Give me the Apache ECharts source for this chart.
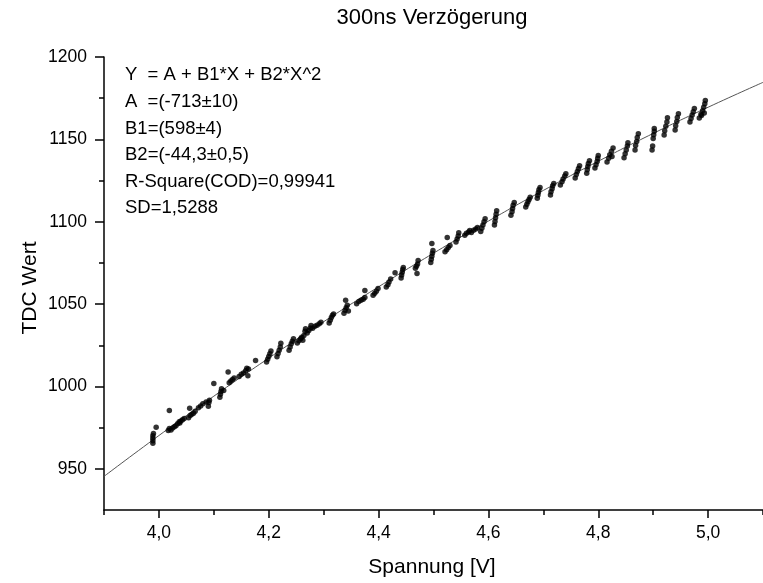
<!DOCTYPE html>
<html>
<head>
<meta charset="utf-8">
<title>300ns Verzögerung</title>
<script src="https://cdn.jsdelivr.net/npm/echarts@6/dist/echarts.min.js"></script>
<style>
  html, body { margin: 0; padding: 0; background: #fff; }
  #chart { width: 763px; height: 583px; }
</style>
</head>
<body>
<div id="chart"></div>
<script>
// Messpunkte [Spannung V, TDC Wert]
const measured = [
  [3.989, 965.5], [3.989, 967], [3.989, 968.5], [3.989, 970], [3.990, 971.5], [3.995, 975.3],
  [4.017, 973.2], [4.019, 974.5], [4.022, 973.6], [4.025, 974.8], [4.028, 975.6], [4.031, 976.1], [4.019, 985.4],
  [4.034, 977.4], [4.037, 978.5], [4.040, 979.0], [4.043, 979.8], [4.046, 980.6], [4.038, 977.8],
  [4.054, 981], [4.057, 982.3], [4.060, 983.1], [4.063, 983.8], [4.066, 985], [4.056, 986.8],
  [4.072, 987], [4.076, 988.2], [4.080, 989.5], [4.086, 990.6], [4.090, 988.0], [4.091, 990.2], [4.092, 991.6],
  [4.100, 1001.8],
  [4.111, 993.5], [4.112, 995.2], [4.113, 997], [4.114, 998.6], [4.118, 997.6],
  [4.126, 1008.7],
  [4.128, 1002.2], [4.131, 1003.3], [4.134, 1004.2], [4.137, 1005.2],
  [4.146, 1006], [4.150, 1007.4], [4.154, 1008.2], [4.158, 1009.5], [4.160, 1011], [4.163, 1010.6], [4.162, 1006.5],
  [4.176, 1015.8],
  [4.196, 1014.8], [4.198, 1016.5], [4.200, 1018.2], [4.202, 1019.8], [4.204, 1021.5],
  [4.215, 1018], [4.217, 1020], [4.219, 1022], [4.221, 1024], [4.222, 1026.3],
  [4.237, 1022], [4.239, 1024], [4.241, 1026], [4.243, 1027.5], [4.245, 1029],
  [4.252, 1026.4], [4.255, 1027.8], [4.258, 1029], [4.260, 1029.8],
  [4.262, 1028], [4.264, 1031], [4.266, 1033.5], [4.267, 1035],
  [4.270, 1032.5], [4.273, 1034], [4.276, 1035.5], [4.277, 1037],
  [4.280, 1035.3], [4.284, 1036.5], [4.288, 1037.2], [4.292, 1038], [4.295, 1039],
  [4.310, 1038.5], [4.312, 1040.2], [4.314, 1041.8], [4.316, 1043.2], [4.318, 1044],
  [4.337, 1044.5], [4.339, 1046.2], [4.341, 1047.8], [4.343, 1049.3], [4.345, 1045.8], [4.340, 1052.3],
  [4.360, 1050.2], [4.364, 1051.5], [4.368, 1052.3], [4.372, 1053], [4.375, 1054], [4.375, 1058.3],
  [4.390, 1055.3], [4.393, 1056.6], [4.396, 1057.8], [4.399, 1059.5],
  [4.414, 1060.3], [4.417, 1061.8], [4.419, 1063.4], [4.422, 1065.2], [4.430, 1069],
  [4.441, 1065.8], [4.442, 1067.6], [4.443, 1069.4], [4.444, 1071], [4.445, 1072.2],
  [4.467, 1071.8], [4.469, 1073], [4.471, 1074.4], [4.472, 1076.5], [4.470, 1068.6],
  [4.495, 1075.3], [4.496, 1077.2], [4.497, 1079], [4.498, 1080.8], [4.499, 1082.6], [4.497, 1086.8],
  [4.521, 1081.8], [4.524, 1083], [4.527, 1084.3], [4.530, 1085.6], [4.525, 1090.5],
  [4.541, 1087.7], [4.543, 1089.5], [4.545, 1091.4], [4.546, 1093.3],
  [4.557, 1091.8], [4.560, 1093], [4.564, 1093.8], [4.566, 1094.6],
  [4.569, 1093.4], [4.573, 1094.8], [4.577, 1095.6], [4.580, 1096.5],
  [4.586, 1094], [4.588, 1096], [4.590, 1098], [4.592, 1100], [4.594, 1101.8],
  [4.611, 1098], [4.612, 1100.2], [4.613, 1102.4], [4.614, 1104.6], [4.615, 1106.6],
  [4.641, 1104], [4.643, 1106], [4.644, 1108], [4.645, 1110], [4.647, 1111.6],
  [4.668, 1109], [4.670, 1110.6], [4.672, 1112.2], [4.674, 1113.5], [4.676, 1114.8],
  [4.689, 1114.2], [4.690, 1116], [4.691, 1117.8], [4.692, 1119.4], [4.694, 1120.8],
  [4.713, 1116.3], [4.714, 1118.2], [4.716, 1120], [4.717, 1121.8], [4.719, 1123.2],
  [4.731, 1122.3], [4.734, 1124.2], [4.736, 1126], [4.739, 1127.8], [4.741, 1129.2],
  [4.758, 1126.6], [4.760, 1128.6], [4.762, 1130.5], [4.764, 1132.3], [4.766, 1134],
  [4.779, 1129.5], [4.780, 1131.5], [4.781, 1133.5], [4.782, 1135.4], [4.784, 1137],
  [4.794, 1132.6], [4.796, 1134.6], [4.798, 1136.6], [4.799, 1138.5], [4.800, 1140.2],
  [4.816, 1136.3], [4.819, 1138.5], [4.821, 1140.7], [4.824, 1142.8], [4.827, 1144.8], [4.825, 1139.6],
  [4.847, 1138.8], [4.849, 1141.2], [4.851, 1143.6], [4.853, 1146], [4.854, 1148],
  [4.867, 1143.6], [4.868, 1146.2], [4.870, 1148.7], [4.871, 1151.2], [4.873, 1153.4],
  [4.898, 1143.6], [4.899, 1146], [4.900, 1150.5], [4.901, 1152.8], [4.902, 1155], [4.902, 1156.6],
  [4.920, 1152.6], [4.921, 1155.3], [4.923, 1158], [4.925, 1160.6], [4.926, 1163.1],
  [4.940, 1155.7], [4.941, 1158.3], [4.943, 1160.8], [4.944, 1163.3], [4.946, 1165.6],
  [4.967, 1160.5], [4.969, 1162.7], [4.971, 1164.8], [4.973, 1166.8], [4.975, 1168.7],
  [4.984, 1163], [4.987, 1165.2], [4.990, 1167.4], [4.992, 1169.5], [4.994, 1171.6], [4.995, 1173.6], [4.988, 1164.5], [4.993, 1166]
];

const fitX = [3.9, 4.0, 4.1, 4.2, 4.3, 4.4, 4.5, 4.6, 4.7, 4.8, 4.9, 5.0, 5.1];
const fitY = [945.4, 970.2, 994.1, 1017.2, 1039.3, 1060.5, 1080.9, 1100.4, 1119.0, 1136.7, 1153.6, 1169.5, 1184.6];

// Achsen
const xMajor = [4.0, 4.2, 4.4, 4.6, 4.8, 5.0];
const xMinor = [3.9, 4.1, 4.3, 4.5, 4.7, 4.9, 5.1];
const yMajor = [950, 1000, 1050, 1100, 1150, 1200];
const yMinor = [975, 1025, 1075, 1125, 1175];

const fitText = [
  'Y  = A + B1*X + B2*X^2',
  'A  =(-713±10)',
  'B1=(598±4)',
  'B2=(-44,3±0,5)',
  'R-Square(COD)=0,99941',
  'SD=1,5288'
];

const FONT = 'Liberation Sans, Arial, sans-serif';
const axisLine = { show: true, lineStyle: { color: '#000', width: 1.5 } };
const tickStyle = { color: '#000', width: 1.5 };

const chart = echarts.init(document.getElementById('chart'), null, { renderer: 'canvas' });

chart.setOption({
  animation: false,
  backgroundColor: '#fff',
  grid: { left: 104, right: -5, top: 57, bottom: 73, containLabel: false },
  xAxis: [
    {
      type: 'value', min: 3.9, max: 5.1, position: 'bottom',
      axisLine: axisLine,
      axisTick: { show: true, customValues: xMajor, length: 8, lineStyle: tickStyle },
      axisLabel: {
        customValues: xMajor, margin: 14, fontSize: 17.5, color: '#000', fontFamily: FONT,
        formatter: v => v.toFixed(1).replace('.', ',')
      },
      splitLine: { show: false }
    },
    {
      type: 'value', min: 3.9, max: 5.1, position: 'bottom',
      axisLine: { show: false },
      axisTick: { show: true, customValues: xMinor, length: 5, lineStyle: tickStyle },
      axisLabel: { show: false },
      splitLine: { show: false }
    }
  ],
  yAxis: [
    {
      type: 'value', min: 925, max: 1200, position: 'left',
      axisLine: axisLine,
      axisTick: { show: true, customValues: yMajor, length: 9, lineStyle: tickStyle },
      axisLabel: {
        customValues: yMajor, margin: 17, fontSize: 17.5, color: '#000', fontFamily: FONT,
        formatter: v => String(v)
      },
      splitLine: { show: false }
    },
    {
      type: 'value', min: 925, max: 1200, position: 'left',
      axisLine: { show: false },
      axisTick: { show: true, customValues: yMinor, length: 5, lineStyle: tickStyle },
      axisLabel: { show: false },
      splitLine: { show: false }
    }
  ],
  series: [
    {
      // Fit
      type: 'line',
      xAxisIndex: 0, yAxisIndex: 0,
      data: fitX.map((x, i) => [x, fitY[i]]),
      smooth: true,
      symbol: 'none',
      lineStyle: { color: '#555', width: 1 },
      z: 2
    },
    {
      // Messwerte
      type: 'scatter',
      xAxisIndex: 0, yAxisIndex: 0,
      data: measured,
      symbol: 'circle',
      symbolSize: 5.5,
      itemStyle: { color: '#000' },
      z: 3
    }
  ],
  graphic: [
    {
      type: 'text', x: 432, y: 18,
      style: { text: '300ns Verzögerung', font: '22px ' + FONT, fill: '#000', align: 'center', verticalAlign: 'middle' }
    },
    {
      type: 'text', x: 432, y: 567,
      style: { text: 'Spannung [V]', font: '21px ' + FONT, fill: '#000', align: 'center', verticalAlign: 'middle' }
    },
    {
      type: 'text', x: 30, y: 288, rotation: Math.PI / 2,
      style: { text: 'TDC Wert', font: '21px ' + FONT, fill: '#000', align: 'center', verticalAlign: 'middle' }
    },
    {
      type: 'text', x: 125, y: 62,
      style: { text: fitText.join('\n'), font: '18.5px ' + FONT, lineHeight: 26.6, fill: '#000', align: 'left', verticalAlign: 'top' }
    }
  ]
});
</script>
</body>
</html>
